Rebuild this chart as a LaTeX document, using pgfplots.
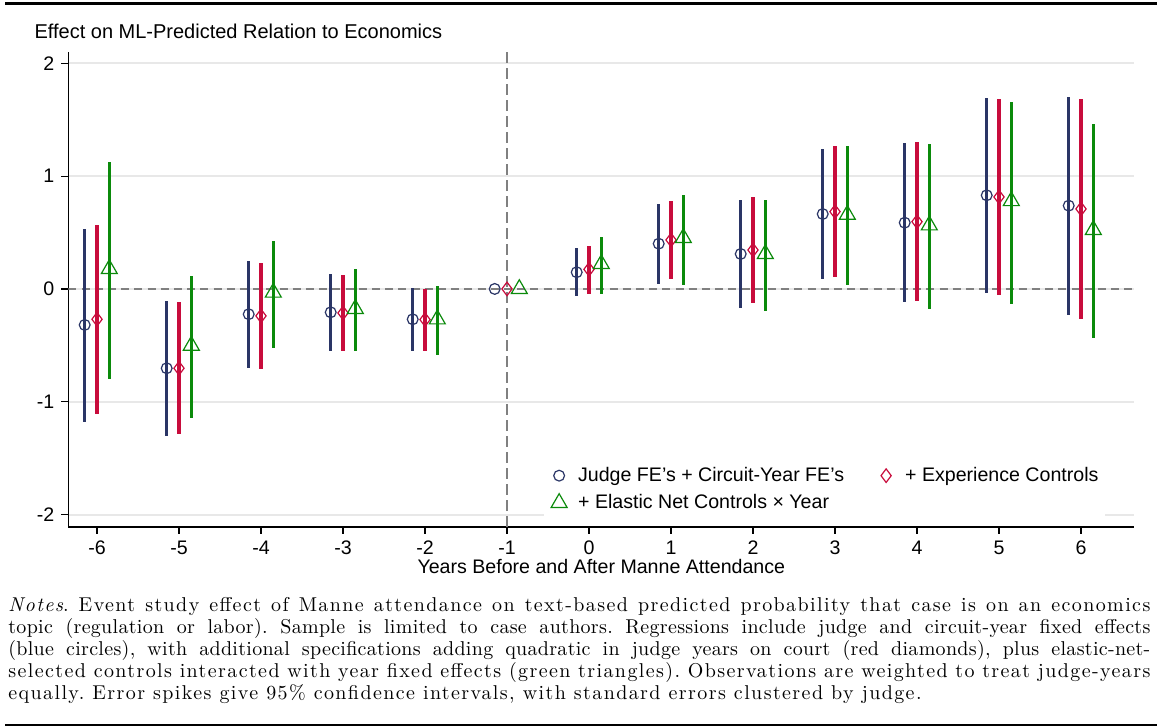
\documentclass[border=0pt]{standalone}
\usepackage{fontspec}
\setmainfont{Liberation Sans}
\newfontfamily\lmrw[LetterSpace=7]{Latin Modern Roman}
\newfontfamily\lmrn[LetterSpace=1.5]{Latin Modern Roman}
\usepackage{pgfplots}
\pgfplotsset{compat=1.18}
\usepackage{pgfplotstable}

\definecolor{snavy}{HTML}{2A3566}
\definecolor{scran}{HTML}{C80C3C}
\definecolor{sgreen}{HTML}{0B8A0B}

% point estimate (y) and 95% CI (lo, hi)
\pgfplotstableread{
x  y      lo     hi
-6 -0.319 -1.175 0.530
-5 -0.703 -1.302 -0.103
-4 -0.224 -0.703 0.251
-3 -0.207 -0.546 0.130
-2 -0.269 -0.546 0.006
-1 0      0      0
0  0.148  -0.062 0.360
1  0.401  0.047  0.753
2  0.310  -0.168 0.786
3  0.664  0.086  1.243
4  0.587  -0.115 1.290
5  0.830  -0.038 1.692
6  0.738  -0.227 1.703
}\judgefe

\pgfplotstableread{
x  y      lo     hi
-6 -0.269 -1.110 0.567
-5 -0.703 -1.287 -0.118
-4 -0.239 -0.712 0.227
-3 -0.213 -0.546 0.124
-2 -0.272 -0.549 0.000
-1 0      0      0
0  0.174  -0.047 0.384
1  0.434  0.086  0.782
2  0.345  -0.127 0.818
3  0.685  0.109  1.270
4  0.596  -0.106 1.299
5  0.815  -0.050 1.680
6  0.709  -0.266 1.686
}\experience

\pgfplotstableread{
x  y      lo     hi
-6 0.177  -0.797 1.128
-5 -0.502 -1.140 0.115
-4 -0.032 -0.520 0.425
-3 -0.177 -0.552 0.177
-2 -0.269 -0.582 0.027
-1 0      0      0
0  0.221  -0.044 0.463
1  0.452  0.038  0.835
2  0.310  -0.192 0.791
3  0.658  0.035  1.264
4  0.564  -0.174 1.281
5  0.779  -0.130 1.659
6  0.523  -0.437 1.459
}\elastic

\begin{document}
\begin{tikzpicture}
\path[use as bounding box, fill=white] (0,0) rectangle (578.5pt,364pt);
\draw[line width=1.3pt] (2.5pt,362.2pt) -- (578.5pt,362.2pt);
\draw[line width=1pt] (2.5pt,1.5pt) -- (578.5pt,1.5pt);
\begin{axis}[
    at={(34.15pt,100.5pt)}, anchor=south west,
    scale only axis, width=533pt, height=237.5pt,
    xmin=-6.35, xmax=6.65, ymin=-2.11, ymax=2.1,
    axis x line=bottom, axis y line=left,
    axis line style={line width=0.6pt, -},
    tick align=outside, major tick length=3.5pt,
    tick style={line width=0.6pt, black},
    xtick={-6,...,6}, ytick={-2,...,2},
    ymajorgrids, grid style={line width=1pt, black!9},
    /pgf/number format/assume math mode=true,
    ticklabel style={font=\fontsize{9.8}{11}\selectfont},
    xlabel={Years Before and After Manne Attendance},
    every axis x label/.style={at={(axis description cs:0.5,0)}, anchor=base,
        yshift=-23.5pt, font=\fontsize{9.8}{11}\selectfont},
    ylabel={Effect on ML-Predicted Relation to Economics},
    every axis y label/.style={at={(axis description cs:0,1)}, anchor=base west,
        xshift=-20.4pt, yshift=6.85pt, font=\fontsize{10}{12}\selectfont},
    legend columns=2,
    legend style={at={(0.446,0.015)}, anchor=south west, draw=none, fill=white,
        font=\fontsize{9.8}{11}\selectfont, cells={anchor=west},
        inner xsep=0.5pt, inner ysep=2pt, row sep=1pt,
        nodes={inner xsep=2.5pt},
        /tikz/every even column/.append style={column sep=11.5pt}},
    legend image code/.code={\path[draw=none, fill=none] (0pt,-2pt) rectangle (14pt,2pt);
        \draw[mark repeat=2,mark phase=2,#1]
        plot coordinates {(0pt,0pt) (7pt,0pt) (14pt,0pt)};},
]
\addplot[forget plot, black!50, line width=1pt, dash pattern=on 4pt off 2.6pt]
    coordinates {(-6.35,0) (6.65,0)};
\addplot[forget plot, black!50, line width=0.65pt, dash pattern=on 5.5pt off 2.5pt]
    coordinates {(-1,-2.11) (-1,2.1)};

\addplot[only marks, snavy, mark=o, mark size=2.7pt, mark options={line width=0.6pt},
    error bars/.cd, y dir=both, y explicit, error mark=none,
    error bar style={line width=1.4pt, snavy}]
    table[x expr=\thisrow{x}-0.15, y=y,
          y error plus expr=\thisrow{hi}-\thisrow{y},
          y error minus expr=\thisrow{y}-\thisrow{lo}] {\judgefe};
\addplot[only marks, scran, mark=diamond, mark size=3.4pt, mark options={line width=0.6pt},
    error bars/.cd, y dir=both, y explicit, error mark=none,
    error bar style={line width=1.55pt, scran}]
    table[x=x, y=y,
          y error plus expr=\thisrow{hi}-\thisrow{y},
          y error minus expr=\thisrow{y}-\thisrow{lo}] {\experience};
\addplot[only marks, sgreen, mark=triangle, mark size=4.6pt, mark options={line width=0.6pt},
    error bars/.cd, y dir=both, y explicit, error mark=none,
    error bar style={line width=1.4pt, sgreen}]
    table[x expr=\thisrow{x}+0.15, y=y,
          y error plus expr=\thisrow{hi}-\thisrow{y},
          y error minus expr=\thisrow{y}-\thisrow{lo}] {\elastic};

\legend{Judge FE’s + Circuit-Year FE’s, + Experience Controls\hspace{14pt}, + Elastic Net Controls × Year}
\end{axis}
\node[anchor=north west, inner sep=0pt, text width=571pt, align=justify,
      font=\lmrw\fontsize{10}{11}\selectfont] at (4pt,65.5pt)
{\frenchspacing
{\lmrw\textit{Notes}. Event study effect of Manne attendance on text-based predicted probability that case is on an economics}\linebreak
{\lmrn topic (regulation or labor). Sample is limited to case authors. Regressions include judge and circuit-year fixed effects}\linebreak
{\lmrn (blue circles), with additional specifications adding quadratic in judge years on court (red diamonds), plus elastic-net-}\linebreak
{\lmrw selected controls interacted with year fixed effects (green triangles). Observations are weighted to treat judge-years}\linebreak
{\lmrw equally. Error spikes give 95\% confidence intervals, with standard errors clustered by judge.}};
\end{tikzpicture}
\end{document}
